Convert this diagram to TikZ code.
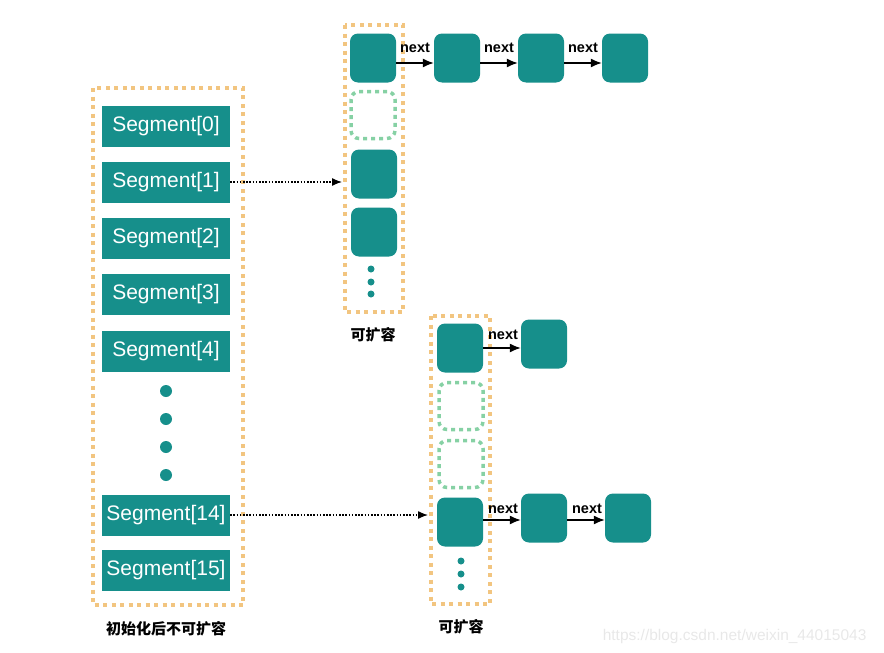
\documentclass[tikz,border=0pt]{standalone}
\usepackage{fontspec}
\setmainfont{Liberation Sans}
\newfontfamily\cjk{Noto Sans CJK SC}
\usetikzlibrary{arrows.meta,calc}
\definecolor{teal1}{HTML}{168F8B}
\definecolor{sand}{HTML}{F2C580}
\definecolor{mint}{HTML}{86D1A4}
\definecolor{wm}{HTML}{E8E8E8}
\begin{document}
\begin{tikzpicture}[x=1pt,y=-1pt,
 seg/.style={fill=teal1, minimum width=128pt, minimum height=41pt, inner sep=0pt, text=white, font=\fontsize{21}{21}\selectfont},
 cell/.style={fill=teal1, rounded corners=8pt, minimum width=46pt, minimum height=49pt, inner sep=0pt},
 slot/.style={draw=mint, line width=3.5pt, dash pattern=on 4pt off 4pt, rounded corners=8pt, minimum width=44pt, minimum height=47pt, inner sep=0pt},
 frame/.style={draw=sand, line width=4pt, dash pattern=on 4pt off 4.5pt},
 bigdot/.style={circle, fill=teal1, minimum size=12pt, inner sep=0pt},
 smalldot/.style={circle, fill=teal1, minimum size=7pt, inner sep=0pt},
 nextarr/.style={-{Latex[length=11pt,width=9pt]}, line width=1.4pt},
 ptr/.style={-{Latex[length=10pt,width=8pt]}, line width=1.3pt, dash pattern=on 1.6pt off 1.6pt},
 lbl/.style={font=\cjk\bfseries\fontsize{15}{15}\selectfont},
 nx/.style={font=\bfseries\fontsize{14.5}{14.5}\selectfont, inner sep=1pt}
]
\useasboundingbox (0,0) rectangle (884,653);

% left frame
\draw[frame] (93,88) rectangle (243,605);
\node[seg] (s0) at (166,126) {Segment[0]};
\node[seg] (s1) at (166,182) {Segment[1]};
\node[seg] (s2) at (166,238) {Segment[2]};
\node[seg] (s3) at (166,294) {Segment[3]};
\node[seg] (s4) at (166,351) {Segment[4]};
\node[bigdot] (d1) at (166,391) {};
\node[bigdot] (d2) at (166,419) {};
\node[bigdot] (d3) at (166,447) {};
\node[bigdot] (d4) at (166,475) {};
\node[seg] (s14) at (166,515) {Segment[14]};
\node[seg] (s15) at (166,570) {Segment[15]};
\node[lbl] (lblL) at (166,629) {初始化后不可扩容};

% top column
\draw[frame] (345,25) rectangle (403,312);
\node[cell] (a0) at (373,58) {};
\node[slot] (a1) at (373,115) {};
\node[cell] (a2) at (374,174) {};
\node[cell] (a3) at (374,232) {};
\node[smalldot] (ad1) at (371,269) {};
\node[smalldot] (ad2) at (371,282) {};
\node[smalldot] (ad3) at (371,294) {};
\node[lbl] (lblT) at (373,335) {可扩容};

\node[cell] (t1) at (457,58) {};
\node[cell] (t2) at (541,58) {};
\node[cell] (t3) at (625,58) {};
\draw[nextarr] ($(a0.east)+(0,5)$) -- ($(t1.west)+(0,5)$);
\draw[nextarr] ($(t1.east)+(0,5)$) -- ($(t2.west)+(0,5)$);
\draw[nextarr] ($(t2.east)+(0,5)$) -- ($(t3.west)+(0,5)$);
\node[nx] (n1) at (415,48) {next};
\node[nx] (n2) at (499,48) {next};
\node[nx] (n3) at (583,48) {next};

% bottom column
\draw[frame] (431,316) rectangle (490,604);
\node[cell] (b0) at (460,348) {};
\node[slot] (b1) at (461,406) {};
\node[slot] (b2) at (461,464) {};
\node[cell] (b3) at (460,522) {};
\node[smalldot] (bd1) at (461,561) {};
\node[smalldot] (bd2) at (461,574) {};
\node[smalldot] (bd3) at (461,587) {};
\node[lbl] (lblB) at (461,627) {可扩容};

\node[cell] (u1) at (544,344) {};
\node[cell] (v1) at (544,518) {};
\node[cell] (v2) at (628,518) {};
\draw[nextarr] (b0.east) -- (b0.east -| u1.west);
\draw[nextarr] ($(b3.east)+(0,-2)$) -- ($(b3.east -| v1.west)+(0,-2)$);
\draw[nextarr] ($(v1.east)+(0,2)$) -- ($(v2.west)+(0,2)$);
\node[nx] (n4) at (503,335) {next};
\node[nx] (n5) at (503,509) {next};
\node[nx] (n6) at (587,509) {next};

% pointers
\coordinate (p1) at (342,182);
\coordinate (p2) at (428,515);
\draw[ptr] (s1.east) -- (p1);
\draw[ptr] (s14.east) -- (p2);

% watermark
\node[text=wm, font=\fontsize{15.5}{15.5}\selectfont, anchor=east] (wmk) at (870,636) {https://blog.csdn.net/weixin\_44015043};
\end{tikzpicture}
\end{document}
